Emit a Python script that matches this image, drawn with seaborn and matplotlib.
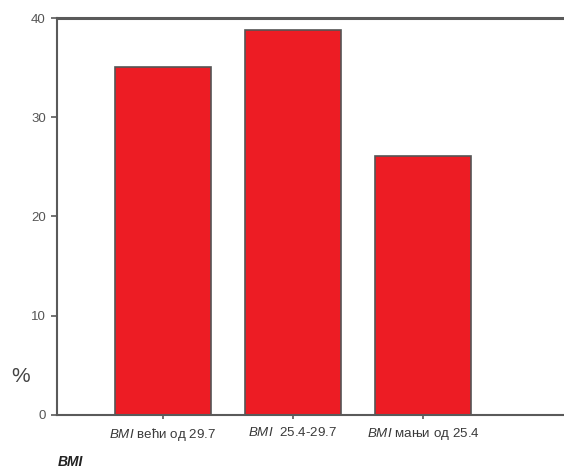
import matplotlib
matplotlib.use("Agg")
import matplotlib.pyplot as plt
import seaborn as sns
import pandas as pd

categories = [
    r"$\mathit{BMI}$ већи од 29.7",
    r"$\mathit{BMI}$  25.4-29.7",
    r"$\mathit{BMI}$ мањи од 25.4",
]
percent = [35.1, 38.8, 26.1]
y_ticks = [0, 10, 20, 30, 40]

sns.set_theme(style="white")
plt.rcParams["font.family"] = ["Liberation Sans", "DejaVu Sans"]
plt.rcParams["mathtext.fontset"] = "custom"
plt.rcParams["mathtext.it"] = "Liberation Sans:italic"
plt.rcParams["mathtext.rm"] = "Liberation Sans"

df = pd.DataFrame({"group": categories, "pct": percent})

fig = plt.figure(figsize=(5.64, 4.74), dpi=100)
ax = fig.add_axes([0.101, 0.1245, 0.899, 0.8375])

sns.barplot(data=df, x="group", y="pct", color="#ED1C24", saturation=1,
            edgecolor="#555555", linewidth=1.2, width=0.74, ax=ax)

ax.set_xlim(-0.815, 3.085)
ax.set_ylim(0, 40)
ax.set_yticks(y_ticks)
ax.set_yticklabels([str(t) for t in y_ticks])

for side in ["left", "bottom", "top"]:
    ax.spines[side].set_color("#5a5a5a")
    ax.spines[side].set_visible(True)
ax.spines["left"].set_linewidth(1.5)
ax.spines["bottom"].set_linewidth(1.5)
ax.spines["top"].set_linewidth(2.2)
ax.spines["right"].set_visible(False)

ax.tick_params(axis="y", which="both", left=True, length=4, width=1.2,
               color="#5a5a5a", labelsize=9.5, labelcolor="#555555", pad=4)
ax.tick_params(axis="x", which="both", bottom=True, length=3, width=1.2,
               color="#5a5a5a", labelsize=9.6, labelcolor="#3a3a3a", pad=5)

ax.set_xlabel("")
ax.set_ylabel("")
fig.text(0.036, 0.205, "%", fontsize=15, color="#444444", ha="center", va="center")
fig.text(0.103, 0.025, "BMI", fontsize=10, fontweight="bold", fontstyle="italic",
         color="#222222", ha="left", va="center")

fig.savefig("out.png", dpi=100)
